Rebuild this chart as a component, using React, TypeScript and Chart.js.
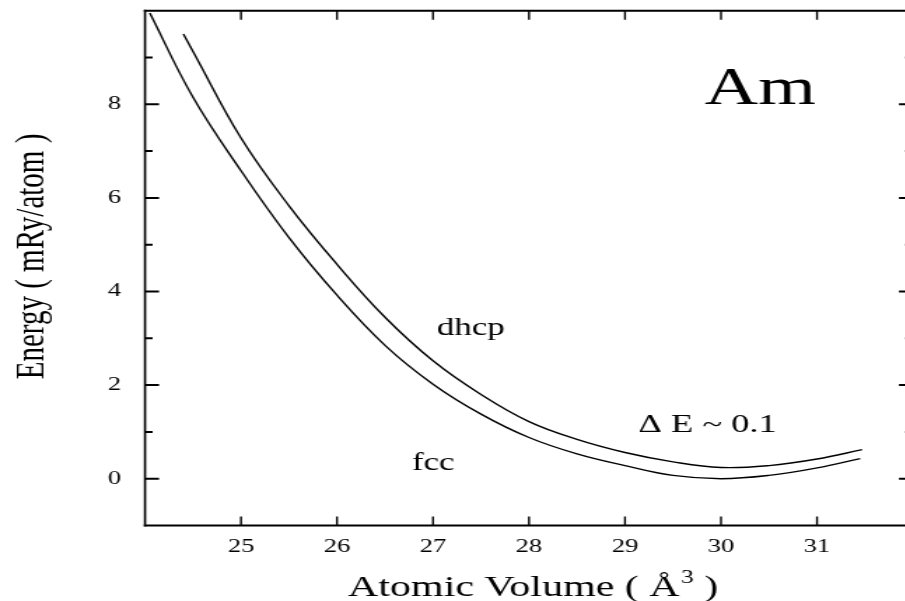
import React, { useEffect, useRef } from "react";
import { Chart, registerables } from "chart.js";

Chart.register(...registerables);

// fcc total energy vs atomic volume (mRy/atom, relative to the fcc minimum)
const fccVolume = [24.05, 24.5, 25.0, 25.5, 26.0, 26.5, 27.0, 27.5, 28.0, 28.5, 29.0, 29.5, 30.0, 30.5, 31.0, 31.45];
const fccEnergy = [9.95, 8.15, 6.58, 5.15, 3.92, 2.85, 2.02, 1.38, 0.88, 0.53, 0.28, 0.07, 0.0, 0.07, 0.23, 0.43];

// dhcp total energy vs atomic volume
const dhcpVolume = [24.4, 24.5, 25.0, 25.5, 26.0, 26.5, 27.0, 27.5, 28.0, 28.5, 29.0, 29.5, 30.0, 30.5, 31.0, 31.47];
const dhcpEnergy = [9.5, 9.13, 7.28, 5.83, 4.58, 3.45, 2.52, 1.8, 1.22, 0.84, 0.56, 0.36, 0.24, 0.28, 0.42, 0.62];

const xTickValues = [25, 26, 27, 28, 29, 30, 31];
const yMajorTicks = [0, 2, 4, 6, 8];
const yMinorTicks = [1, 3, 5, 7, 9];

const X_MIN = 24;
const X_MAX = 32;
const Y_MIN = -1;
const Y_MAX = 10;

const FONT = '"Liberation Serif", "Times New Roman", serif';

// canvas is rendered narrow and widened by CSS (wide-set serif look)
const STRETCH = 1.4;
const CANVAS_W = 660;
const CANVAS_H = 601;

const framePlugin = {
  id: "frameAndTicks",
  afterDatasetsDraw(chart: any) {
    const { ctx, chartArea } = chart;
    const { left, right, top, bottom } = chartArea;
    const xs = chart.scales.x;
    const ys = chart.scales.y;
    ctx.save();
    ctx.strokeStyle = "#000";
    ctx.lineCap = "butt";

    // horizontal edges
    ctx.lineWidth = 2;
    ctx.beginPath();
    ctx.moveTo(left - 0.8, top);
    ctx.lineTo(right + 0.8, top);
    ctx.moveTo(left - 0.8, bottom);
    ctx.lineTo(right + 0.8, bottom);
    ctx.stroke();

    // vertical edges
    ctx.lineWidth = 1.6;
    ctx.beginPath();
    ctx.moveTo(left, top - 1);
    ctx.lineTo(left, bottom + 1);
    ctx.moveTo(right, top - 1);
    ctx.lineTo(right, bottom + 1);
    ctx.stroke();

    // x ticks, pointing inward at bottom and top
    ctx.lineWidth = 1.4;
    ctx.beginPath();
    for (const v of xTickValues) {
      const px = xs.getPixelForValue(v);
      ctx.moveTo(px, bottom);
      ctx.lineTo(px, bottom - 9);
      ctx.moveTo(px, top);
      ctx.lineTo(px, top + 9);
    }
    ctx.stroke();

    // y ticks, major and minor, on left and right
    ctx.lineWidth = 2;
    ctx.beginPath();
    for (const v of yMajorTicks) {
      const py = ys.getPixelForValue(v);
      ctx.moveTo(left, py);
      ctx.lineTo(left + 10, py);
      ctx.moveTo(right, py);
      ctx.lineTo(right - 10, py);
    }
    for (const v of yMinorTicks) {
      const py = ys.getPixelForValue(v);
      ctx.moveTo(left, py);
      ctx.lineTo(left + 5.4, py);
      ctx.moveTo(right, py);
      ctx.lineTo(right - 5.4, py);
    }
    ctx.stroke();
    ctx.restore();
  },
};

const textPlugin = {
  id: "labels",
  afterDraw(chart: any) {
    const { ctx, chartArea } = chart;
    const xs = chart.scales.x;
    const ys = chart.scales.y;
    ctx.save();
    ctx.fillStyle = "#000";
    ctx.textAlign = "left";
    ctx.textBaseline = "alphabetic";

    const put = (text: string, size: number, x: number, y: number) => {
      ctx.font = `${size}px ${FONT}`;
      ctx.fillText(text, xs.getPixelForValue(x), ys.getPixelForValue(y));
    };
    put("Am", 53, 29.83, 8.0);
    put("dhcp", 25, 27.04, 3.06);
    put("fcc", 25, 26.78, 0.18);
    put("\u0394 E ~ 0.1", 26, 29.14, 0.99);

    // x-axis title with superscript
    let tx = chartArea.left + 145;
    const base = chartArea.bottom + 70.2;
    ctx.font = `30px ${FONT}`;
    const head = "Atomic Volume ( \u00C5";
    ctx.fillText(head, tx, base);
    tx += ctx.measureText(head).width + 1;
    ctx.font = `18px ${FONT}`;
    ctx.fillText("3", tx, base - 13);
    tx += ctx.measureText("3").width;
    ctx.font = `30px ${FONT}`;
    ctx.fillText(" )", tx, base);

    // y-axis title, rotated
    ctx.translate(30.7, 256.5);
    ctx.rotate(-Math.PI / 2);
    ctx.textAlign = "center";
    ctx.font = `29px ${FONT}`;
    ctx.fillText("Energy ( mRy/atom )", 0, 0);
    ctx.restore();
  },
};

export default function App() {
  const canvasRef = useRef<HTMLCanvasElement | null>(null);

  useEffect(() => {
    const canvas = canvasRef.current;
    if (!canvas) return;

    const toPoints = (xs: number[], ys: number[]) => xs.map((x, i) => ({ x, y: ys[i] }));
    const curve = (label: string, xs: number[], ys: number[]) => ({
      label,
      data: toPoints(xs, ys),
      showLine: true,
      borderColor: "#000",
      borderWidth: 1.4,
      pointRadius: 0,
      tension: 0.4,
    });

    const chart = new Chart(canvas, {
      type: "scatter",
      data: {
        datasets: [
          curve("fcc", fccVolume, fccEnergy),
          curve("dhcp", dhcpVolume, dhcpEnergy),
        ],
      },
      options: {
        responsive: false,
        animation: false,
        devicePixelRatio: 1,
        layout: { padding: { left: 0, right: CANVAS_W - 913 / STRETCH, top: 10.7, bottom: 0 } },
        plugins: {
          legend: { display: false },
          tooltip: { enabled: false },
        },
        scales: {
          x: {
            type: "linear",
            min: X_MIN,
            max: X_MAX,
            grid: { display: false, drawTicks: false },
            border: { display: false },
            afterBuildTicks: (scale: any) => {
              scale.ticks = xTickValues.map((value) => ({ value }));
            },
            afterFit: (scale: any) => {
              scale.height = 75.5;
              scale.paddingLeft = 0;
              scale.paddingRight = 0;
            },
            ticks: {
              autoSkip: false,
              maxRotation: 0,
              padding: 10,
              color: "#000",
              font: { family: FONT, size: 19 },
              callback: (v: any) => String(v),
            },
          },
          y: {
            type: "linear",
            min: Y_MIN,
            max: Y_MAX,
            grid: { display: false, drawTicks: false },
            border: { display: false },
            afterBuildTicks: (scale: any) => {
              scale.ticks = yMajorTicks.map((value) => ({ value }));
            },
            afterFit: (scale: any) => {
              scale.width = 145 / STRETCH;
              scale.paddingTop = 0;
              scale.paddingBottom = 0;
            },
            ticks: {
              autoSkip: false,
              padding: 17,
              color: "#000",
              font: { family: FONT, size: 19 },
              callback: (v: any) => String(v),
            },
          },
        },
      },
      plugins: [framePlugin, textPlugin],
    });

    return () => {
      chart.destroy();
    };
  }, []);

  return (
    <div
      style={{
        position: "absolute",
        left: 0,
        top: 0,
        width: 905,
        height: 601,
        overflow: "hidden",
        background: "#fff",
      }}
    >
      <canvas
        ref={canvasRef}
        width={CANVAS_W}
        height={CANVAS_H}
        style={{ display: "block", width: `${CANVAS_W * STRETCH}px`, height: `${CANVAS_H}px` }}
      />
    </div>
  );
}
